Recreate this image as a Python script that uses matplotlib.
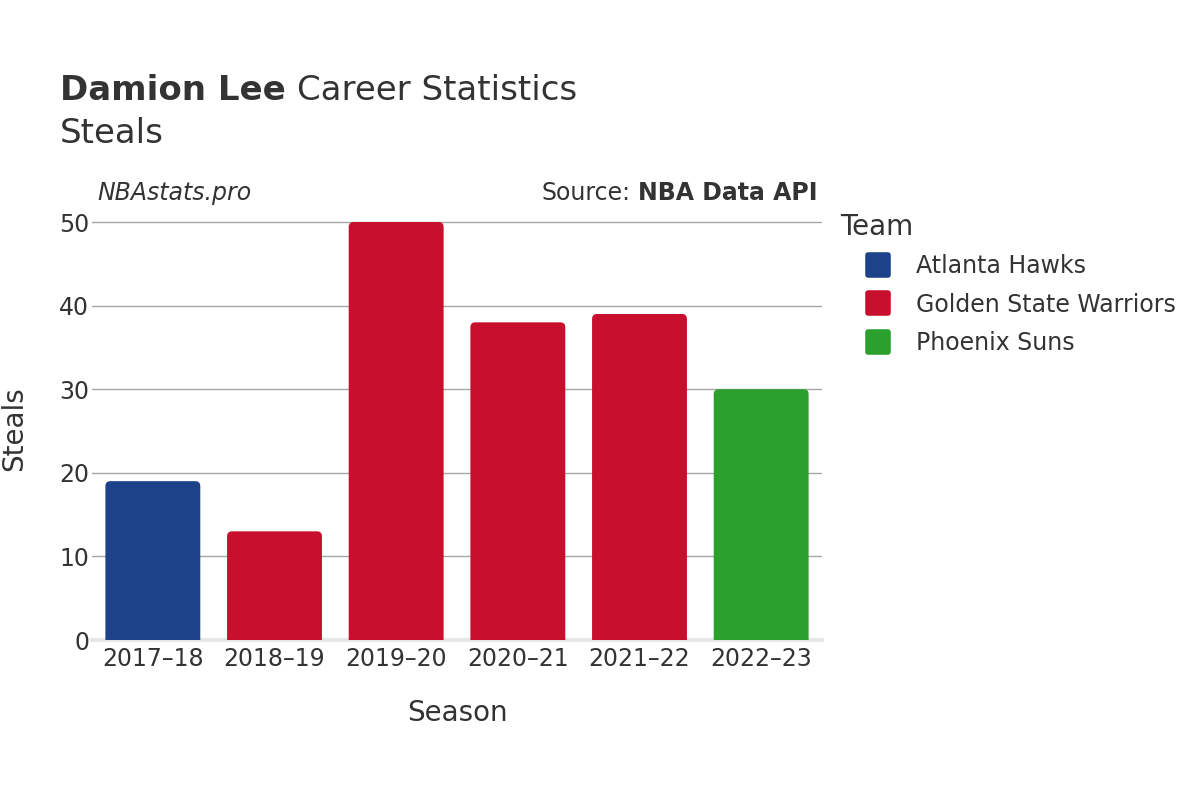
import matplotlib
matplotlib.use("Agg")
import matplotlib.pyplot as plt
from matplotlib.patches import FancyBboxPatch
from matplotlib.lines import Line2D
from matplotlib.markers import MarkerStyle

# data
seasons = ["2017–18", "2018–19", "2019–20", "2020–21", "2021–22", "2022–23"]
steals = [19, 13, 50, 38, 39, 30]
teams = ["Atlanta Hawks", "Golden State Warriors", "Golden State Warriors",
         "Golden State Warriors", "Golden State Warriors", "Phoenix Suns"]
team_names = ["Atlanta Hawks", "Golden State Warriors", "Phoenix Suns"]
team_colors = {"Atlanta Hawks": "#1d428a",
               "Golden State Warriors": "#c8102e",
               "Phoenix Suns": "#2ca02c"}

txt = "#333333"
plt.rcParams['font.family'] = ['DejaVu Sans']

fig = plt.figure(figsize=(12, 8), dpi=100)
ax = fig.add_axes([92 / 1200, 0.2, 730 / 1200, 423 / 800])

x = list(range(len(seasons)))
bars = ax.bar(x, steals, width=0.78, color=[team_colors[t] for t in teams])

# swap plain rectangles for ones with rounded tops
px_x = 6 / 730.0          # x data units per pixel
px_y = 50.6 / 423.0       # y data units per pixel
for b in bars:
    x0, w, h = b.get_x(), b.get_width(), b.get_height()
    c = b.get_facecolor()
    b.remove()
    p = FancyBboxPatch((x0, -2), w, h + 2,
                       boxstyle="round,pad=0,rounding_size=%f" % (5 * px_x),
                       mutation_aspect=px_y / px_x,
                       facecolor=c, edgecolor="none", zorder=2)
    ax.add_patch(p)

ax.set_xlim(-0.5, 5.5)
ax.set_ylim(0, 50.6)
ax.set_yticks([0, 10, 20, 30, 40, 50])
ax.set_xticks(x)
ax.set_xticklabels(seasons)
ax.yaxis.grid(True, color="#a6a6a6", linewidth=1, zorder=0)
ax.set_axisbelow(True)
for s in ax.spines.values():
    s.set_visible(False)
ax.axhline(0, color="#e6e6e6", linewidth=3, zorder=1, clip_on=False)
ax.tick_params(axis="both", length=0, labelsize=17, labelcolor=txt, pad=5)
ax.tick_params(axis="y", pad=2)

ax.set_xlabel("Season", fontsize=20, color=txt, labelpad=20)
ax.set_ylabel("Steals", fontsize=20, color=txt, labelpad=22)

t1 = fig.text(60 / 1200, 1 - 100 / 800, "Damion Lee", fontsize=24.5,
              fontweight="bold", color=txt)
fig.canvas.draw()
bb = t1.get_window_extent()
fig.text(bb.x1 / 1200 + 0.009, 1 - 100 / 800, "Career Statistics", fontsize=24.5,
         color=txt)
fig.text(60 / 1200, 1 - 143 / 800, "Steals", fontsize=24.5, color=txt)

fig.text(97 / 1200, 1 - 200 / 800, "NBAstats.pro", fontsize=17,
         style="italic", color=txt)
t2 = fig.text(818 / 1200, 1 - 200 / 800, "NBA Data API", fontsize=17,
              fontweight="bold", color=txt, ha="right")
fig.canvas.draw()
bb2 = t2.get_window_extent()
fig.text((bb2.x0 - 8) / 1200, 1 - 200 / 800, "Source:", fontsize=17,
         color=txt, ha="right")

fig.text(840 / 1200, 1 - 227 / 800, "Team", fontsize=20, color=txt,
         va="center")
handles = [Line2D([], [], linestyle="", color=team_colors[t],
                  marker=MarkerStyle("s", joinstyle="round"),
                  markersize=15, markeredgewidth=4) for t in team_names]
leg = fig.legend(handles, team_names, loc="upper left",
                 bbox_to_anchor=(864 / 1200, 1 - 254 / 800), frameon=False,
                 fontsize=17, handlelength=1.2, handletextpad=1.0,
                 labelspacing=0.62, borderaxespad=0, borderpad=0)
for t in leg.get_texts():
    t.set_color(txt)

fig.savefig("out.png", dpi=100)
